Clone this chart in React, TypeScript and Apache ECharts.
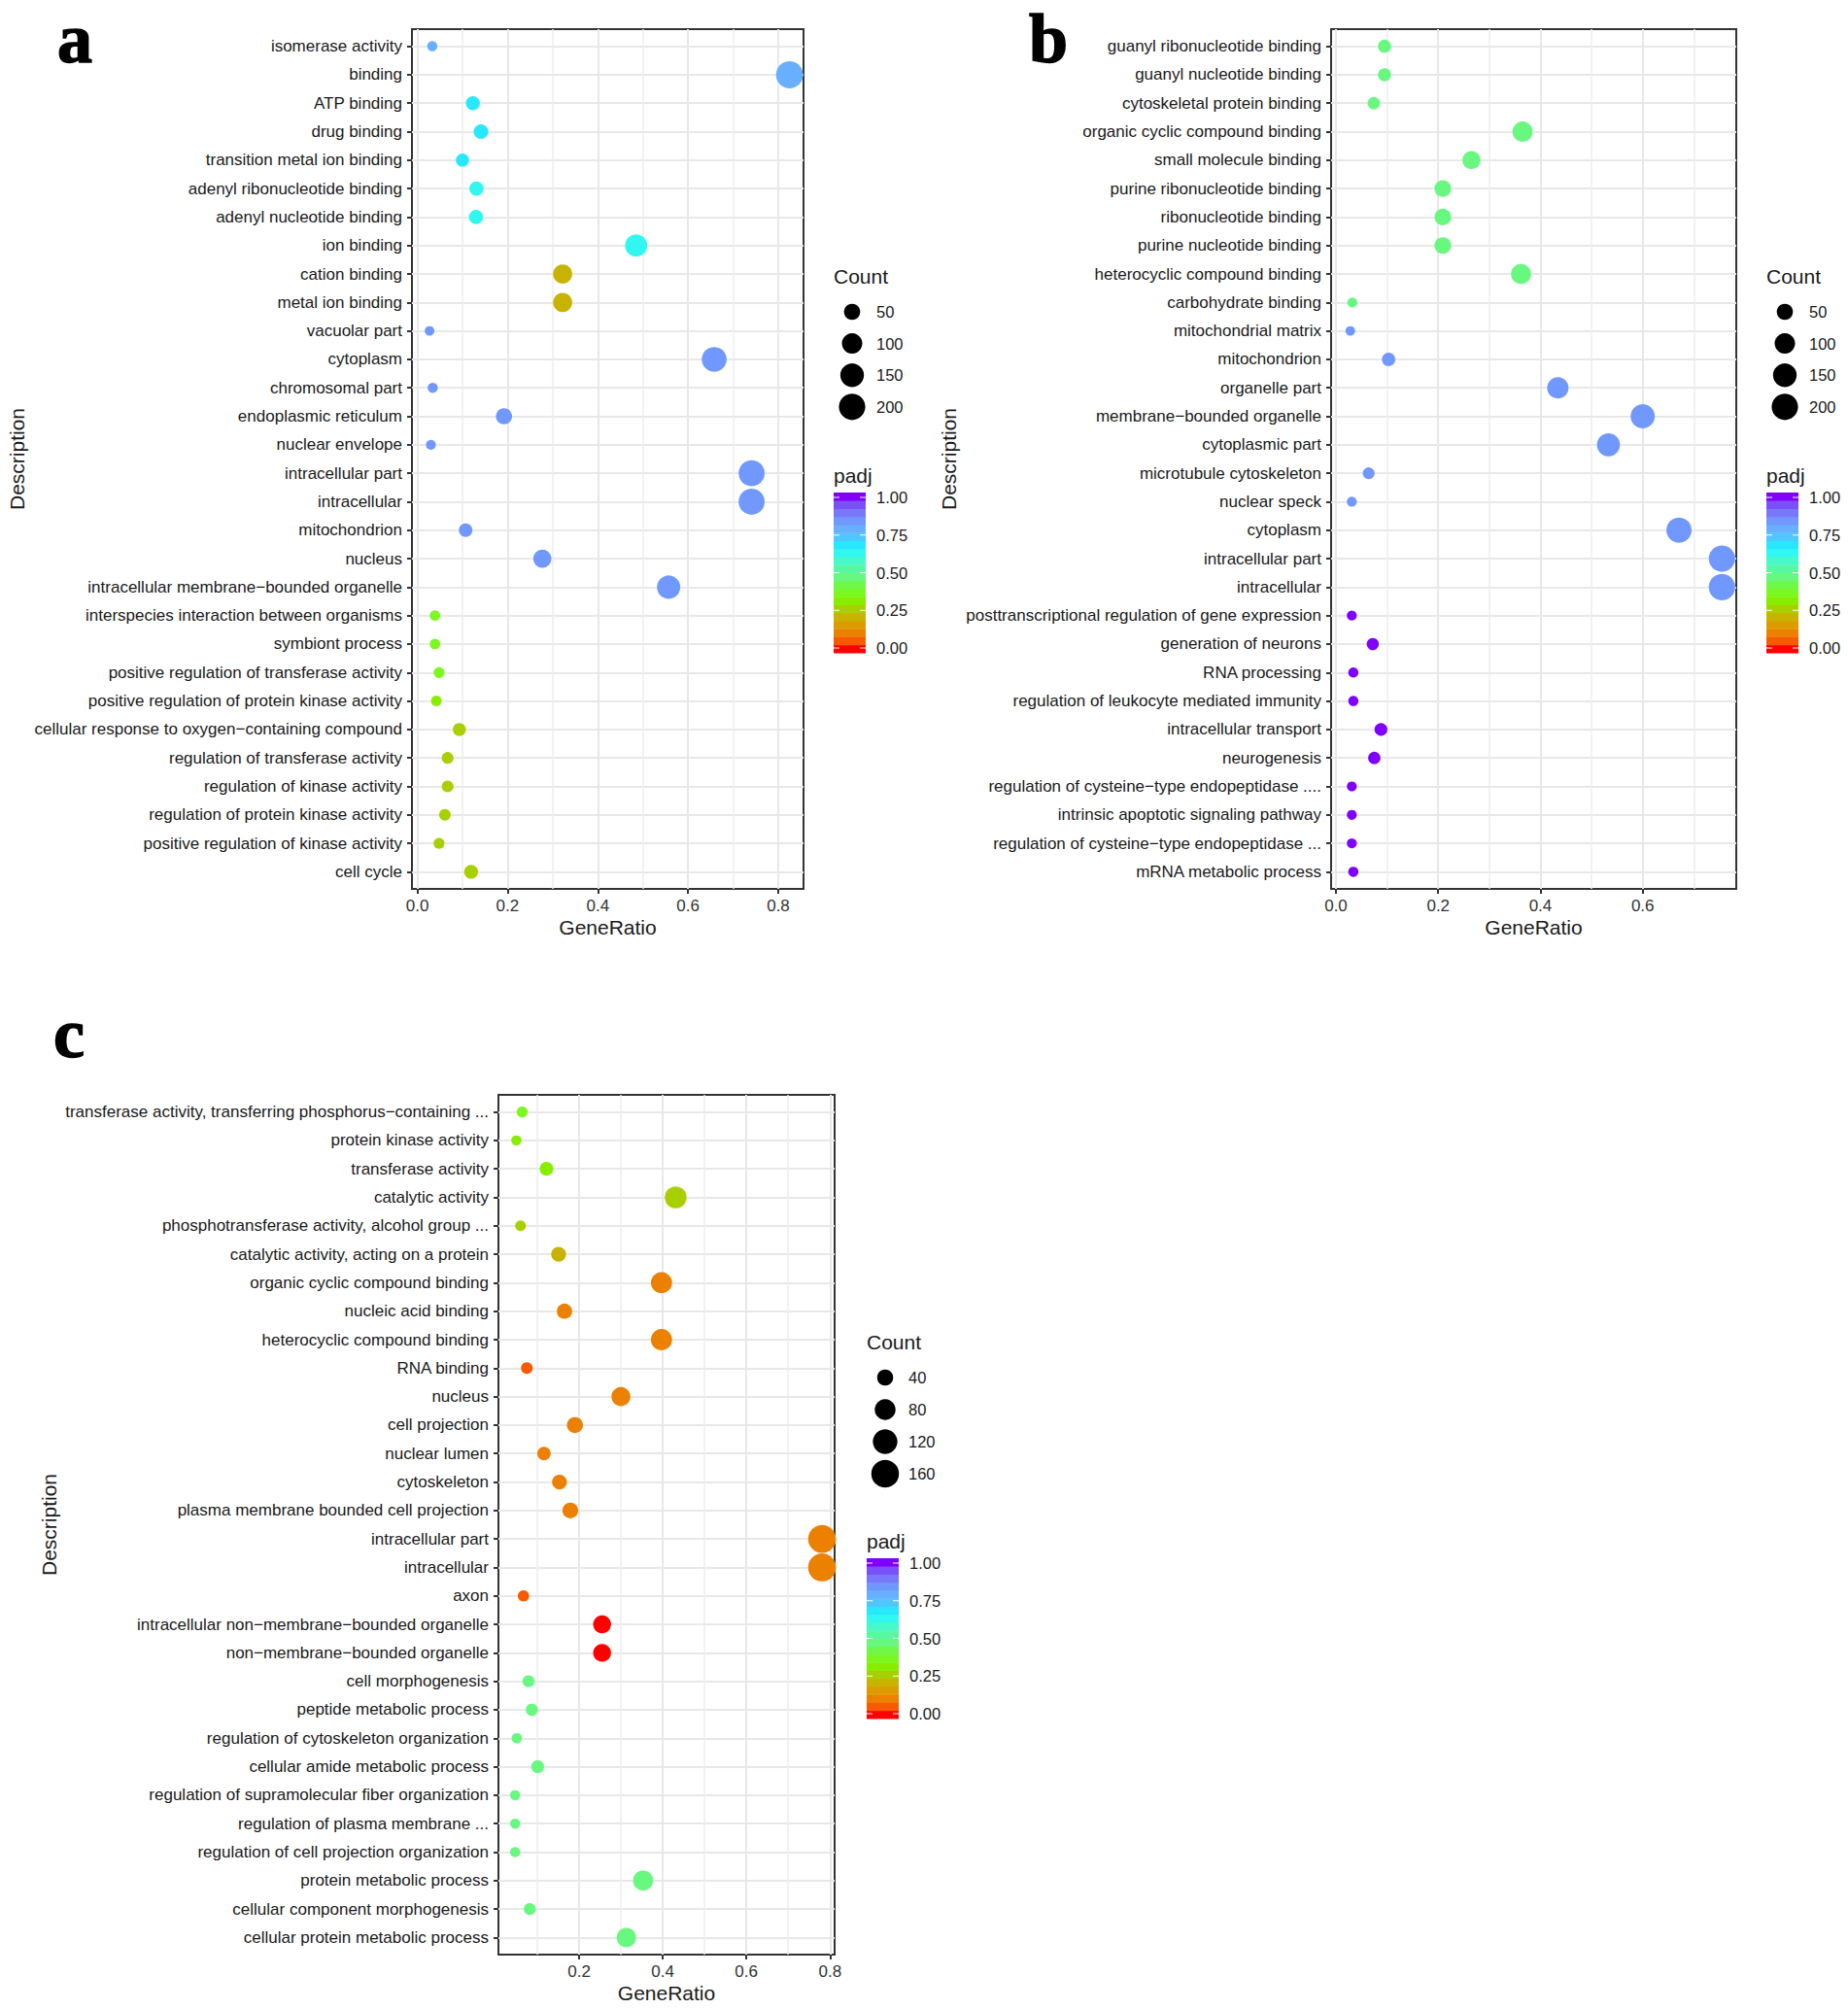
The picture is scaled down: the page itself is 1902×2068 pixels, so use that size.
import React, { useEffect, useRef } from "react";
import * as echarts from "echarts";

const namesA = [
  "isomerase activity", "binding", "ATP binding", "drug binding", "transition metal ion binding",
  "adenyl ribonucleotide binding", "adenyl nucleotide binding", "ion binding", "cation binding",
  "metal ion binding", "vacuolar part", "cytoplasm", "chromosomal part", "endoplasmic reticulum",
  "nuclear envelope", "intracellular part", "intracellular", "mitochondrion", "nucleus",
  "intracellular membrane−bounded organelle", "interspecies interaction between organisms",
  "symbiont process", "positive regulation of transferase activity",
  "positive regulation of protein kinase activity", "cellular response to oxygen−containing compound",
  "regulation of transferase activity", "regulation of kinase activity",
  "regulation of protein kinase activity", "positive regulation of kinase activity", "cell cycle",
];
const ratioA = [0.033, 0.825, 0.123, 0.141, 0.1, 0.131, 0.13, 0.485, 0.322, 0.322, 0.027, 0.658, 0.034, 0.192, 0.03, 0.741, 0.741, 0.107, 0.277, 0.557, 0.039, 0.039, 0.048, 0.042, 0.093, 0.067, 0.067, 0.061, 0.048, 0.119];
const countA = [9, 215, 32, 37, 26, 34, 34, 126, 84, 84, 7, 171, 9, 50, 8, 193, 193, 28, 72, 145, 10, 10, 12, 11, 24, 17, 17, 16, 12, 31];
const padjA = [0.79, 0.79, 0.66, 0.66, 0.66, 0.63, 0.63, 0.62, 0.2, 0.2, 0.85, 0.85, 0.85, 0.85, 0.85, 0.85, 0.85, 0.85, 0.85, 0.85, 0.37, 0.36, 0.35, 0.33, 0.27, 0.28, 0.28, 0.28, 0.28, 0.27];

const namesB = [
  "guanyl ribonucleotide binding", "guanyl nucleotide binding", "cytoskeletal protein binding",
  "organic cyclic compound binding", "small molecule binding", "purine ribonucleotide binding",
  "ribonucleotide binding", "purine nucleotide binding", "heterocyclic compound binding",
  "carbohydrate binding", "mitochondrial matrix", "mitochondrion", "organelle part",
  "membrane−bounded organelle", "cytoplasmic part", "microtubule cytoskeleton", "nuclear speck",
  "cytoplasm", "intracellular part", "intracellular", "posttranscriptional regulation of gene expression",
  "generation of neurons", "RNA processing", "regulation of leukocyte mediated immunity",
  "intracellular transport", "neurogenesis", "regulation of cysteine−type endopeptidase ....",
  "intrinsic apoptotic signaling pathway", "regulation of cysteine−type endopeptidase ...",
  "mRNA metabolic process",
];
const ratioB = [0.095, 0.095, 0.074, 0.365, 0.265, 0.209, 0.209, 0.209, 0.362, 0.032, 0.028, 0.103, 0.434, 0.6, 0.533, 0.064, 0.031, 0.671, 0.755, 0.755, 0.031, 0.072, 0.034, 0.034, 0.088, 0.075, 0.031, 0.031, 0.031, 0.034];
const countB = [25, 25, 20, 97, 70, 55, 55, 55, 96, 8, 7, 27, 115, 159, 141, 17, 8, 178, 200, 200, 8, 19, 9, 9, 23, 20, 8, 8, 8, 9];
const padjB = [0.47, 0.47, 0.47, 0.47, 0.47, 0.47, 0.47, 0.47, 0.47, 0.47, 0.85, 0.85, 0.85, 0.85, 0.85, 0.85, 0.85, 0.85, 0.85, 0.85, 1, 1, 1, 1, 1, 1, 1, 1, 1, 1];

const namesC = [
  "transferase activity, transferring phosphorus−containing ...", "protein kinase activity",
  "transferase activity", "catalytic activity", "phosphotransferase activity, alcohol group ...",
  "catalytic activity, acting on a protein", "organic cyclic compound binding", "nucleic acid binding",
  "heterocyclic compound binding", "RNA binding", "nucleus", "cell projection", "nuclear lumen",
  "cytoskeleton", "plasma membrane bounded cell projection", "intracellular part", "intracellular", "axon",
  "intracellular non−membrane−bounded organelle", "non−membrane−bounded organelle", "cell morphogenesis",
  "peptide metabolic process", "regulation of cytoskeleton organization", "cellular amide metabolic process",
  "regulation of supramolecular fiber organization", "regulation of plasma membrane ...",
  "regulation of cell projection organization", "protein metabolic process",
  "cellular component morphogenesis", "cellular protein metabolic process",
];
const ratioC = [0.064, 0.05, 0.122, 0.431, 0.06, 0.151, 0.397, 0.165, 0.397, 0.075, 0.3, 0.19, 0.116, 0.153, 0.179, 0.781, 0.781, 0.067, 0.255, 0.255, 0.079, 0.087, 0.051, 0.101, 0.047, 0.047, 0.047, 0.353, 0.082, 0.313];
const countC = [13, 10, 26, 90, 12, 32, 83, 35, 83, 16, 63, 40, 24, 32, 38, 164, 164, 14, 54, 54, 17, 18, 11, 21, 10, 10, 10, 74, 17, 66];
const padjC = [0.39, 0.34, 0.33, 0.28, 0.27, 0.22, 0.09, 0.08, 0.08, 0.05, 0.11, 0.11, 0.11, 0.11, 0.11, 0.11, 0.11, 0.06, 0.01, 0.01, 0.45, 0.45, 0.47, 0.47, 0.47, 0.47, 0.47, 0.47, 0.47, 0.47];

const majorTicksAB = [0, 0.2, 0.4, 0.6, 0.8];
const majorTicksC = [0.2, 0.4, 0.6, 0.8];
const minorTicks = [0.1, 0.3, 0.5, 0.7];
const legendAB = [50, 100, 150, 200];
const legendC = [40, 80, 120, 160];
const padjTicks = [0, 0.25, 0.5, 0.75, 1];

// colour bar bins, low padj to high
const palette = [
  "#ff0000", "#f85a00", "#ec8000", "#dc9c00", "#c8b400", "#a8d000", "#88ee00", "#7cf820", "#70f848", "#68f880",
  "#58f8a0", "#48f8c8", "#30f8f0", "#28e8ff", "#50c8ff", "#68b0ff", "#7098ff", "#7a78fa", "#7a50f8", "#7f00ff",
];

const FONT = "Liberation Sans";
const TEXT = "#1a1a1a";

const binColor = (p: number) => {
  const k = Math.floor((p + 0.03) / 0.053);
  return palette[Math.max(0, Math.min(palette.length - 1, k))];
};

const panels = [
  {
    letter: "a", letterX: 77, letterY: 40, names: namesA, ratio: ratioA, count: countA, padj: padjA,
    left: 424, top: 30, width: 403, height: 885, min: -0.012, max: 0.856, ticks: majorTicksAB,
    nameGap: 396, legendX: 858, legendTop: 284, legend: legendAB, a: 6, b: 1.5,
  },
  {
    letter: "b", letterX: 1079, letterY: 40, names: namesB, ratio: ratioB, count: countB, padj: padjB,
    left: 1370, top: 30, width: 417, height: 885, min: -0.0095, max: 0.783, ticks: majorTicksAB.slice(0, 4),
    nameGap: 383, legendX: 1818, legendTop: 284, legend: legendAB, a: 6, b: 1.5,
  },
  {
    letter: "c", letterX: 71, letterY: 1064, names: namesC, ratio: ratioC, count: countC, padj: padjC,
    left: 513, top: 1127, width: 346, height: 885, min: 0.0071, max: 0.811, ticks: majorTicksC,
    nameGap: 452, legendX: 892, legendTop: 1381, legend: legendC, a: 4.5, b: 1.9,
  },
];

const App = () => {
  const chartRef = useRef<HTMLDivElement>(null);

  useEffect(() => {
    if (!chartRef.current) return;
    const chart = echarts.init(chartRef.current, undefined, { renderer: "svg" });

    const grid: any[] = [];
    const xAxis: any[] = [];
    const yAxis: any[] = [];
    const series: any[] = [];
    const graphic: any[] = [];

    panels.forEach((p, i) => {
      grid.push({
        left: p.left, top: p.top, width: p.width, height: p.height, show: true,
        outerBoundsMode: "none",
        borderColor: "#333333", borderWidth: 2, backgroundColor: "#fff",
      });
      const rows = p.names.map((_, k) => k);
      xAxis.push({
        type: "value", gridIndex: i, min: p.min, max: p.max,
        name: "GeneRatio", nameLocation: "middle", nameGap: 29,
        nameTextStyle: { fontFamily: FONT, fontSize: 21, color: TEXT },
        axisLine: { show: false, onZero: false },
        axisTick: { show: true, length: 5, customValues: p.ticks, lineStyle: { color: "#333", width: 2 } },
        axisLabel: {
          customValues: p.ticks, margin: 9, color: "#333", fontFamily: FONT, fontSize: 17,
          formatter: (v: number) => v.toFixed(1),
        },
        splitLine: { show: true, lineStyle: { color: "#e8e8e8", width: 2 } },
      });
      // second axis only carries the thin gridlines
      xAxis.push({
        type: "value", gridIndex: i, min: p.min, max: p.max,
        axisLine: { show: false, onZero: false }, axisLabel: { show: false },
        axisTick: { show: false, customValues: minorTicks },
        splitLine: { show: true, lineStyle: { color: "#eeeeee", width: 1.5 } },
      });
      yAxis.push({
        type: "value", gridIndex: i, min: -0.6, max: 29.6, inverse: true,
        name: "Description", nameLocation: "middle", nameGap: p.nameGap,
        nameTextStyle: { fontFamily: FONT, fontSize: 21, color: TEXT },
        axisLine: { show: false, onZero: false },
        axisTick: { show: true, length: 5, customValues: rows, lineStyle: { color: "#333", width: 2 } },
        axisLabel: {
          customValues: rows, margin: 10, color: TEXT, fontFamily: FONT, fontSize: 17,
          formatter: (v: number) => p.names[v] ?? "",
        },
        splitLine: { show: true, lineStyle: { color: "#e8e8e8", width: 2 } },
      });
      series.push({
        type: "scatter", xAxisIndex: i * 2, yAxisIndex: i, clip: true,
        data: p.ratio.map((r, k) => [r, k, p.count[k], p.padj[k]]),
        symbolSize: (v: number[]) => p.a + p.b * Math.sqrt(v[2]),
        itemStyle: { opacity: 1, color: (d: any) => binColor(d.value[3]) },
        silent: true,
      });

      graphic.push({
        type: "text", x: p.letterX, y: p.letterY,
        style: {
          text: p.letter, font: "bold 72px 'Liberation Serif'", fill: "#000", stroke: "#000", lineWidth: 1.5,
          textAlign: "center", textVerticalAlign: "middle",
        },
      });

      // legends
      const lx = p.legendX;
      const ly = p.legendTop;
      graphic.push({
        type: "text", x: lx, y: ly,
        style: { text: "Count", font: `21px '${FONT}'`, fill: TEXT, textVerticalAlign: "middle" },
      });
      const step = i === 2 ? 33 : 32.6;
      p.legend.forEach((c, k) => {
        const cy = ly + 37 + k * step;
        graphic.push({
          type: "circle", shape: { cx: lx + 19, cy, r: (p.a + p.b * Math.sqrt(c)) / 2 }, style: { fill: "#000" },
        });
        graphic.push({
          type: "text", x: lx + (i === 2 ? 43 : 44), y: cy,
          style: { text: String(c), font: `16.5px '${FONT}'`, fill: TEXT, textVerticalAlign: "middle" },
        });
      });
      const barTitle = ly + 205;
      graphic.push({
        type: "text", x: lx, y: barTitle,
        style: { text: "padj", font: `21px '${FONT}'`, fill: TEXT, textVerticalAlign: "middle" },
      });
      const barTop = barTitle + 18;
      const barH = 165;
      palette.forEach((col, k) => {
        const h = barH / palette.length;
        graphic.push({
          type: "rect", shape: { x: lx, y: barTop + barH - (k + 1) * h, width: 33, height: h + 0.4 },
          style: { fill: col },
        });
      });
      padjTicks.forEach((t) => {
        const ty = barTop + 160 - t * 155;
        graphic.push({ type: "line", shape: { x1: lx, y1: ty, x2: lx + 6, y2: ty }, style: { stroke: "#fff", lineWidth: 1 } });
        graphic.push({ type: "line", shape: { x1: lx + 27, y1: ty, x2: lx + 33, y2: ty }, style: { stroke: "#fff", lineWidth: 1 } });
        graphic.push({
          type: "text", x: lx + 44, y: ty,
          style: { text: t.toFixed(2), font: `16.5px '${FONT}'`, fill: TEXT, textVerticalAlign: "middle" },
        });
      });
    });

    chart.setOption({
      animation: false,
      backgroundColor: "#fff",
      grid,
      xAxis,
      yAxis,
      series,
      graphic,
    });

    return () => {
      chart.dispose();
    };
  }, []);

  return <div ref={chartRef} style={{ position: "absolute", left: 0, top: 0, width: 1902, height: 2068 }} />;
};

export default App;
